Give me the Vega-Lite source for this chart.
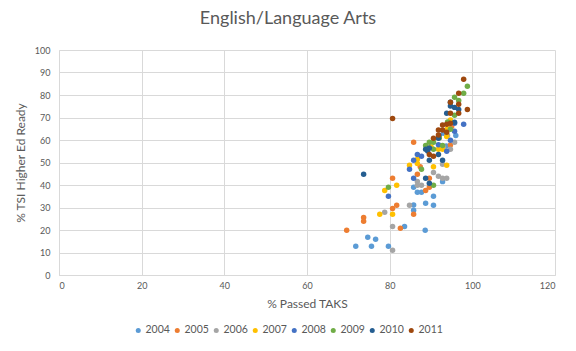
{
  "$schema": "https://vega.github.io/schema/vega-lite/v6.json",
  "autosize": {"type": "none"},
  "width": 496,
  "height": 225,
  "padding": {"left": 59, "top": 50, "right": 21, "bottom": 76},
  "background": "white",
  "title": {"text": "English/Language Arts", "fontSize": 18, "font": "Lato", "fontWeight": "normal", "color": "#595959", "anchor": "middle", "offset": 18, "dx": -19},
  "data": {"values": [
    {"x": 83.6, "y": 21.6, "year": "2004"},
    {"x": 88.6, "y": 19.9, "year": "2004"},
    {"x": 71.8, "y": 12.8, "year": "2004"},
    {"x": 74.7, "y": 16.8, "year": "2004"},
    {"x": 76.6, "y": 15.9, "year": "2004"},
    {"x": 75.6, "y": 12.8, "year": "2004"},
    {"x": 79.7, "y": 12.8, "year": "2004"},
    {"x": 85.8, "y": 31.1, "year": "2004"},
    {"x": 85.8, "y": 28.8, "year": "2004"},
    {"x": 88.7, "y": 31.9, "year": "2004"},
    {"x": 90.6, "y": 31.0, "year": "2004"},
    {"x": 90.6, "y": 35.0, "year": "2004"},
    {"x": 86.7, "y": 36.8, "year": "2004"},
    {"x": 87.7, "y": 36.8, "year": "2004"},
    {"x": 85.8, "y": 39.0, "year": "2004"},
    {"x": 92.8, "y": 41.5, "year": "2004"},
    {"x": 93.7, "y": 57.3, "year": "2004"},
    {"x": 96.0, "y": 62.0, "year": "2004"},
    {"x": 93.0, "y": 63.0, "year": "2004"},
    {"x": 69.6, "y": 19.9, "year": "2005"},
    {"x": 73.7, "y": 25.6, "year": "2005"},
    {"x": 73.7, "y": 23.9, "year": "2005"},
    {"x": 80.7, "y": 29.6, "year": "2005"},
    {"x": 81.7, "y": 31.0, "year": "2005"},
    {"x": 82.6, "y": 20.8, "year": "2005"},
    {"x": 85.8, "y": 27.0, "year": "2005"},
    {"x": 80.7, "y": 43.0, "year": "2005"},
    {"x": 86.7, "y": 44.8, "year": "2005"},
    {"x": 88.7, "y": 37.6, "year": "2005"},
    {"x": 89.6, "y": 39.0, "year": "2005"},
    {"x": 89.6, "y": 43.0, "year": "2005"},
    {"x": 85.8, "y": 59.0, "year": "2005"},
    {"x": 94.7, "y": 57.8, "year": "2005"},
    {"x": 87.4, "y": 48.1, "year": "2005"},
    {"x": 92.0, "y": 61.0, "year": "2005"},
    {"x": 95.0, "y": 66.0, "year": "2005"},
    {"x": 80.7, "y": 21.6, "year": "2006"},
    {"x": 80.7, "y": 11.0, "year": "2006"},
    {"x": 78.8, "y": 27.9, "year": "2006"},
    {"x": 84.8, "y": 31.0, "year": "2006"},
    {"x": 86.7, "y": 41.6, "year": "2006"},
    {"x": 87.7, "y": 39.9, "year": "2006"},
    {"x": 86.7, "y": 39.9, "year": "2006"},
    {"x": 90.6, "y": 45.6, "year": "2006"},
    {"x": 91.8, "y": 43.9, "year": "2006"},
    {"x": 92.8, "y": 43.0, "year": "2006"},
    {"x": 93.8, "y": 43.0, "year": "2006"},
    {"x": 95.7, "y": 59.0, "year": "2006"},
    {"x": 94.7, "y": 55.9, "year": "2006"},
    {"x": 92.8, "y": 49.2, "year": "2006"},
    {"x": 94.0, "y": 62.0, "year": "2006"},
    {"x": 93.0, "y": 57.0, "year": "2006"},
    {"x": 78.8, "y": 37.6, "year": "2007"},
    {"x": 81.7, "y": 39.9, "year": "2007"},
    {"x": 77.6, "y": 27.0, "year": "2007"},
    {"x": 80.7, "y": 27.0, "year": "2007"},
    {"x": 84.8, "y": 48.8, "year": "2007"},
    {"x": 86.7, "y": 51.4, "year": "2007"},
    {"x": 86.7, "y": 49.6, "year": "2007"},
    {"x": 90.6, "y": 48.1, "year": "2007"},
    {"x": 93.8, "y": 48.8, "year": "2007"},
    {"x": 91.8, "y": 55.9, "year": "2007"},
    {"x": 92.8, "y": 55.9, "year": "2007"},
    {"x": 93.8, "y": 61.6, "year": "2007"},
    {"x": 94.7, "y": 68.9, "year": "2007"},
    {"x": 90.0, "y": 57.0, "year": "2007"},
    {"x": 94.0, "y": 65.0, "year": "2007"},
    {"x": 79.7, "y": 35.0, "year": "2008"},
    {"x": 85.8, "y": 43.0, "year": "2008"},
    {"x": 85.8, "y": 51.0, "year": "2008"},
    {"x": 84.8, "y": 47.0, "year": "2008"},
    {"x": 86.7, "y": 53.6, "year": "2008"},
    {"x": 87.7, "y": 52.8, "year": "2008"},
    {"x": 97.9, "y": 67.0, "year": "2008"},
    {"x": 95.7, "y": 63.9, "year": "2008"},
    {"x": 94.7, "y": 59.9, "year": "2008"},
    {"x": 93.8, "y": 55.0, "year": "2008"},
    {"x": 91.8, "y": 57.9, "year": "2008"},
    {"x": 95.7, "y": 67.4, "year": "2008"},
    {"x": 92.0, "y": 62.0, "year": "2008"},
    {"x": 89.0, "y": 56.0, "year": "2008"},
    {"x": 79.7, "y": 39.0, "year": "2009"},
    {"x": 90.6, "y": 39.9, "year": "2009"},
    {"x": 87.7, "y": 47.0, "year": "2009"},
    {"x": 88.7, "y": 57.6, "year": "2009"},
    {"x": 89.6, "y": 59.0, "year": "2009"},
    {"x": 90.6, "y": 59.0, "year": "2009"},
    {"x": 90.6, "y": 55.9, "year": "2009"},
    {"x": 92.8, "y": 57.6, "year": "2009"},
    {"x": 94.7, "y": 64.8, "year": "2009"},
    {"x": 95.7, "y": 71.0, "year": "2009"},
    {"x": 95.7, "y": 79.0, "year": "2009"},
    {"x": 96.7, "y": 77.6, "year": "2009"},
    {"x": 97.9, "y": 80.8, "year": "2009"},
    {"x": 98.8, "y": 83.9, "year": "2009"},
    {"x": 92.0, "y": 61.0, "year": "2009"},
    {"x": 94.0, "y": 68.0, "year": "2009"},
    {"x": 73.7, "y": 44.8, "year": "2010"},
    {"x": 88.7, "y": 43.0, "year": "2010"},
    {"x": 89.6, "y": 40.8, "year": "2010"},
    {"x": 89.6, "y": 51.0, "year": "2010"},
    {"x": 92.8, "y": 51.0, "year": "2010"},
    {"x": 91.8, "y": 53.6, "year": "2010"},
    {"x": 88.7, "y": 55.9, "year": "2010"},
    {"x": 89.2, "y": 55.1, "year": "2010"},
    {"x": 89.6, "y": 56.4, "year": "2010"},
    {"x": 91.8, "y": 60.8, "year": "2010"},
    {"x": 93.8, "y": 71.9, "year": "2010"},
    {"x": 95.7, "y": 67.9, "year": "2010"},
    {"x": 94.7, "y": 76.8, "year": "2010"},
    {"x": 95.7, "y": 74.5, "year": "2010"},
    {"x": 96.7, "y": 73.6, "year": "2010"},
    {"x": 94.7, "y": 75.1, "year": "2010"},
    {"x": 80.7, "y": 69.6, "year": "2011"},
    {"x": 90.6, "y": 60.8, "year": "2011"},
    {"x": 91.8, "y": 64.4, "year": "2011"},
    {"x": 92.8, "y": 64.4, "year": "2011"},
    {"x": 93.8, "y": 63.4, "year": "2011"},
    {"x": 93.8, "y": 67.0, "year": "2011"},
    {"x": 94.7, "y": 67.4, "year": "2011"},
    {"x": 94.7, "y": 71.9, "year": "2011"},
    {"x": 96.7, "y": 71.9, "year": "2011"},
    {"x": 98.8, "y": 73.6, "year": "2011"},
    {"x": 94.7, "y": 76.8, "year": "2011"},
    {"x": 96.7, "y": 75.9, "year": "2011"},
    {"x": 96.7, "y": 80.8, "year": "2011"},
    {"x": 97.9, "y": 87.0, "year": "2011"},
    {"x": 89.6, "y": 53.6, "year": "2011"},
    {"x": 90.6, "y": 52.8, "year": "2011"},
    {"x": 91.8, "y": 62.2, "year": "2011"},
    {"x": 92.8, "y": 66.7, "year": "2011"}
  ]},
  "mark": {"type": "point", "filled": true, "opacity": 1, "size": 30, "shape": "circle"},
  "encoding": {
    "x": {"field": "x", "type": "quantitative", "title": "% Passed TAKS",
      "scale": {"domain": [0, 120], "nice": false, "zero": true},
      "axis": {"values": [0, 20, 40, 60, 80, 100, 120], "grid": true, "gridColor": "#d9d9d9", "domainColor": "#d9d9d9", "ticks": false, "labelColor": "#595959", "labelFontSize": 9, "labelFont": "Lato", "labelPadding": 6, "titleFont": "Lato", "titleFontSize": 12, "titleFontWeight": "normal", "titleColor": "#595959", "titlePadding": 8}},
    "y": {"field": "y", "type": "quantitative", "title": "% TSI Higher Ed Ready",
      "scale": {"domain": [0, 100], "nice": false},
      "axis": {"values": [0, 10, 20, 30, 40, 50, 60, 70, 80, 90, 100], "grid": true, "gridColor": "#d9d9d9", "domainColor": "#d9d9d9", "ticks": false, "labelColor": "#595959", "labelFontSize": 9, "labelFont": "Lato", "labelPadding": 9, "titleFont": "Lato", "titleFontSize": 12, "titleFontWeight": "normal", "titleColor": "#595959", "titlePadding": 7}},
    "color": {"field": "year", "type": "nominal", "title": null,
      "scale": {"domain": ["2004", "2005", "2006", "2007", "2008", "2009", "2010", "2011"], "range": ["#5B9BD5", "#ED7D31", "#A5A5A5", "#FFC000", "#4472C4", "#70AD47", "#255E91", "#9E480E"]},
      "legend": {"orient": "none", "legendX": 74, "legendY": 275, "direction": "horizontal", "columns": 8, "symbolType": "circle", "symbolSize": 25, "labelFont": "Lato", "labelFontSize": 10.5, "labelColor": "#595959", "labelOffset": 2, "columnPadding": 2, "symbolStrokeWidth": 0}}
  },
  "config": {"view": {"stroke": null}}
}
